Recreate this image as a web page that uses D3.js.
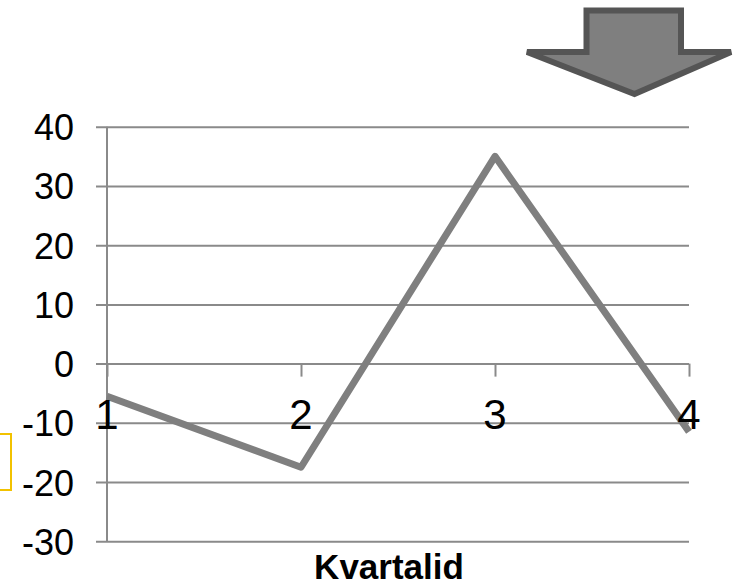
<!DOCTYPE html>
<html>
<head>
<meta charset="utf-8">
<script src="https://cdn.jsdelivr.net/npm/d3@7"></script>
<style>
  html, body { margin: 0; padding: 0; background: #fff; }
  svg { display: block; }
  text { font-family: "Liberation Sans", Arial, sans-serif; }
</style>
</head>
<body>
<script>
// Quarterly change series
const quarters = ["1", "2", "3", "4"];
const values = [-5.5, -17.5, 35, -11.5];
const yTicks = [-30, -20, -10, 0, 10, 20, 30, 40];
const axisTitle = "Kvartalid";

const W = 734, H = 588;
const svg = d3.select("body").append("svg").attr("width", W).attr("height", H);

const x = d3.scalePoint().domain(quarters).range([107, 689]).padding(0);
const y = d3.scaleLinear().domain([-30, 40]).range([541.3, 126.7]);

const gridColor = "#8a8a8a";

// Horizontal gridlines with short ticks to the left of the value axis
const yAxis = d3.axisLeft(y).tickValues(yTicks).tickSize(0).tickPadding(33).tickFormat(d => String(d));
const gy = svg.append("g").attr("transform", "translate(107,0)").call(yAxis);
gy.select(".domain").remove();
gy.selectAll(".tick line").remove();
gy.selectAll(".tick").append("line")
  .attr("x1", -11).attr("x2", 689 - 107)
  .attr("stroke", gridColor).attr("stroke-width", 2);
gy.selectAll(".tick text")
  .attr("font-size", 36).attr("fill", "#000")
  .attr("font-family", "'Liberation Sans', Arial, sans-serif")
  .attr("dy", "0.36em");

// Vertical value axis line
svg.append("line")
  .attr("x1", 107).attr("x2", 107)
  .attr("y1", y(40)).attr("y2", y(-30))
  .attr("stroke", gridColor).attr("stroke-width", 2);

// Category axis along zero with downward ticks
const xAxis = d3.axisBottom(x).tickSize(13).tickPadding(10);
const gx = svg.append("g").attr("transform", `translate(0,${y(0)})`).call(xAxis);
gx.select(".domain").remove();
gx.selectAll(".tick line").attr("stroke", gridColor).attr("stroke-width", 2);
gx.selectAll(".tick text").remove();

// Data line
const line = d3.line().x((d, i) => x(quarters[i])).y(d => y(d));
svg.append("path")
  .datum(values)
  .attr("d", line)
  .attr("fill", "none")
  .attr("stroke", "#7f7f7f")
  .attr("stroke-width", 7)
  .attr("stroke-linejoin", "round")
  .attr("stroke-linecap", "butt");

// Category labels drawn over the line
svg.append("g").selectAll("text")
  .data(quarters)
  .join("text")
  .attr("x", d => x(d))
  .attr("y", 429)
  .attr("text-anchor", "middle")
  .attr("font-size", 42)
  .attr("fill", "#000")
  .text(d => d);

// Axis title
svg.append("text")
  .attr("x", 389).attr("y", 579)
  .attr("text-anchor", "middle")
  .attr("font-size", 35)
  .attr("font-weight", "bold")
  .attr("fill", "#000")
  .text(axisTitle);

// Down arrow
const arrow = d3.path();
arrow.moveTo(586.5, 10.5);
arrow.lineTo(681, 10.5);
arrow.lineTo(681, 52);
arrow.lineTo(731, 52);
arrow.lineTo(634.5, 94);
arrow.lineTo(527, 52);
arrow.lineTo(586.5, 52);
arrow.closePath();
svg.append("path")
  .attr("d", arrow.toString())
  .attr("fill", "#7f7f7f")
  .attr("stroke", "#555555")
  .attr("stroke-width", 6)
  .attr("stroke-linejoin", "miter");

// Partial callout box at the left edge
svg.append("rect")
  .attr("x", -20).attr("y", 434)
  .attr("width", 31).attr("height", 56)
  .attr("fill", "#fff")
  .attr("stroke", "#f2c200")
  .attr("stroke-width", 2);
</script>
</body>
</html>
